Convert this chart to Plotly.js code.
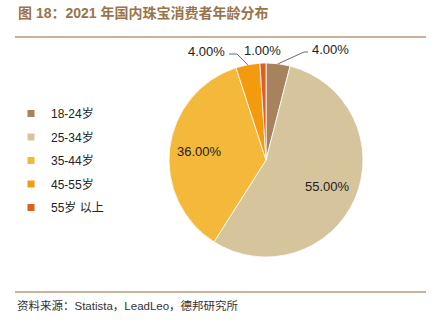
<!DOCTYPE html>
<html><head><meta charset="utf-8">
<script src="https://cdn.plot.ly/plotly-3.0.1.min.js"></script>
<style>html,body{margin:0;padding:0;background:#fff}#chart{width:441px;height:328px}</style>
</head><body><div id="chart"></div>
<script>
const categories = ['18-24岁','25-34岁','35-44岁','45-55岁','55岁 以上'];
const values = [4, 55, 36, 4, 1];
const colors = ['#A7825C','#D5C49C','#F4B83A','#F49A0E','#DA5F20'];
const titleText = '图 18：2021 年国内珠宝消费者年龄分布';
const sourceText = '资料来源：Statista，LeadLeo，德邦研究所';

const W = 441, H = 328;
const px = x => x / W, py = y => 1 - y / H;
// pie geometry (pixels)
const CX = 266, CY = 160, R = 97;
// label placement for outside labels (pixel positions of text, elbow)
const outside = {
  0: {tx:310, ty:49, anchor:'left',  sx:308, ex:304},
  3: {tx:227, ty:51, anchor:'right', sx:229, ex:237},
  4: {tx:262, ty:50, anchor:'center'}
};

const total = values.reduce((a,b)=>a+b,0);
let cum = 0;
const annotations = [];
const shapes = [];
const labelFont = {family:'Liberation Sans, Arial, sans-serif', size:13, color:'#222'};
values.forEach((v,i)=>{
  const mid = (cum + v/2) / total * 2 * Math.PI; // clockwise from top
  cum += v;
  const txt = v.toFixed(2) + '%';
  if (outside[i]) {
    const o = outside[i];
    annotations.push({text:txt, xref:'paper', yref:'paper', x:px(o.tx), y:py(o.ty), xanchor:o.anchor, yanchor:'middle', showarrow:false, font:labelFont});
    if (o.sx !== undefined) {
      const exPt = [CX + R*Math.sin(mid), CY - R*Math.cos(mid)];
      const ly = o.ty + 3;
      shapes.push({type:'path', xref:'paper', yref:'paper',
        path:`M ${px(o.sx)} ${py(ly)} L ${px(o.ex)} ${py(ly)} L ${px(exPt[0])} ${py(exPt[1])}`,
        line:{color:'#444', width:0.8}});
    }
  } else {
    const r = 0.69 * R;
    annotations.push({text:txt, xref:'paper', yref:'paper', x:px(CX + r*Math.sin(mid)), y:py(CY - r*Math.cos(mid)), xanchor:'center', yanchor:'middle', showarrow:false, font:labelFont});
  }
});

const pie = {
  type:'pie', labels:categories, values:values, sort:false, direction:'clockwise', rotation:0,
  marker:{colors:colors, line:{color:'#ffffff', width:0.8}},
  textinfo:'none', hoverinfo:'skip',
  domain:{x:[px(CX-R), px(CX+R)], y:[py(CY+R), py(CY-R)]},
  showlegend:false
};
const legendTraces = categories.map((c,i)=>({
  type:'scatter', mode:'markers', x:[null], y:[null], name:c, legendgroup:'g'+i,
  marker:{symbol:'square', size:7, color:colors[i]}, showlegend:true
}));

annotations.push(
  {text:'<b>'+titleText+'</b>', xref:'paper', yref:'paper', x:px(16), y:py(13), xanchor:'left', yanchor:'middle', showarrow:false, font:{family:'Liberation Sans, Noto Sans CJK SC, sans-serif', size:14, color:'#9A7448'}},
  {text:sourceText, xref:'paper', yref:'paper', x:px(15), y:py(305), xanchor:'left', yanchor:'middle', showarrow:false, font:{family:'Liberation Sans, Noto Sans CJK SC, sans-serif', size:11.5, color:'#333'}}
);
shapes.push(
  {type:'line', xref:'paper', yref:'paper', x0:px(15), x1:px(426), y0:py(37), y1:py(37), line:{color:'#B8977A', width:1.5}},
  {type:'line', xref:'paper', yref:'paper', x0:px(15), x1:px(426), y0:py(292), y1:py(292), line:{color:'#B8977A', width:1.5}}
);

const layout = {
  width:W, height:H, margin:{l:0,r:0,t:0,b:0},
  paper_bgcolor:'#fff', plot_bgcolor:'#fff',
  xaxis:{visible:false}, yaxis:{visible:false},
  showlegend:true,
  legend:{x:px(11), y:py(99), xanchor:'left', yanchor:'top', traceorder:'grouped', tracegroupgap:4.5,
    font:{family:'Liberation Sans, Noto Sans CJK SC, sans-serif', size:12, color:'#222'}, itemwidth:30, bgcolor:'rgba(0,0,0,0)'},
  annotations:annotations,
  shapes:shapes
};
Plotly.newPlot('chart',[pie].concat(legendTraces),layout,{staticPlot:true, displayModeBar:false});
</script></body></html>
